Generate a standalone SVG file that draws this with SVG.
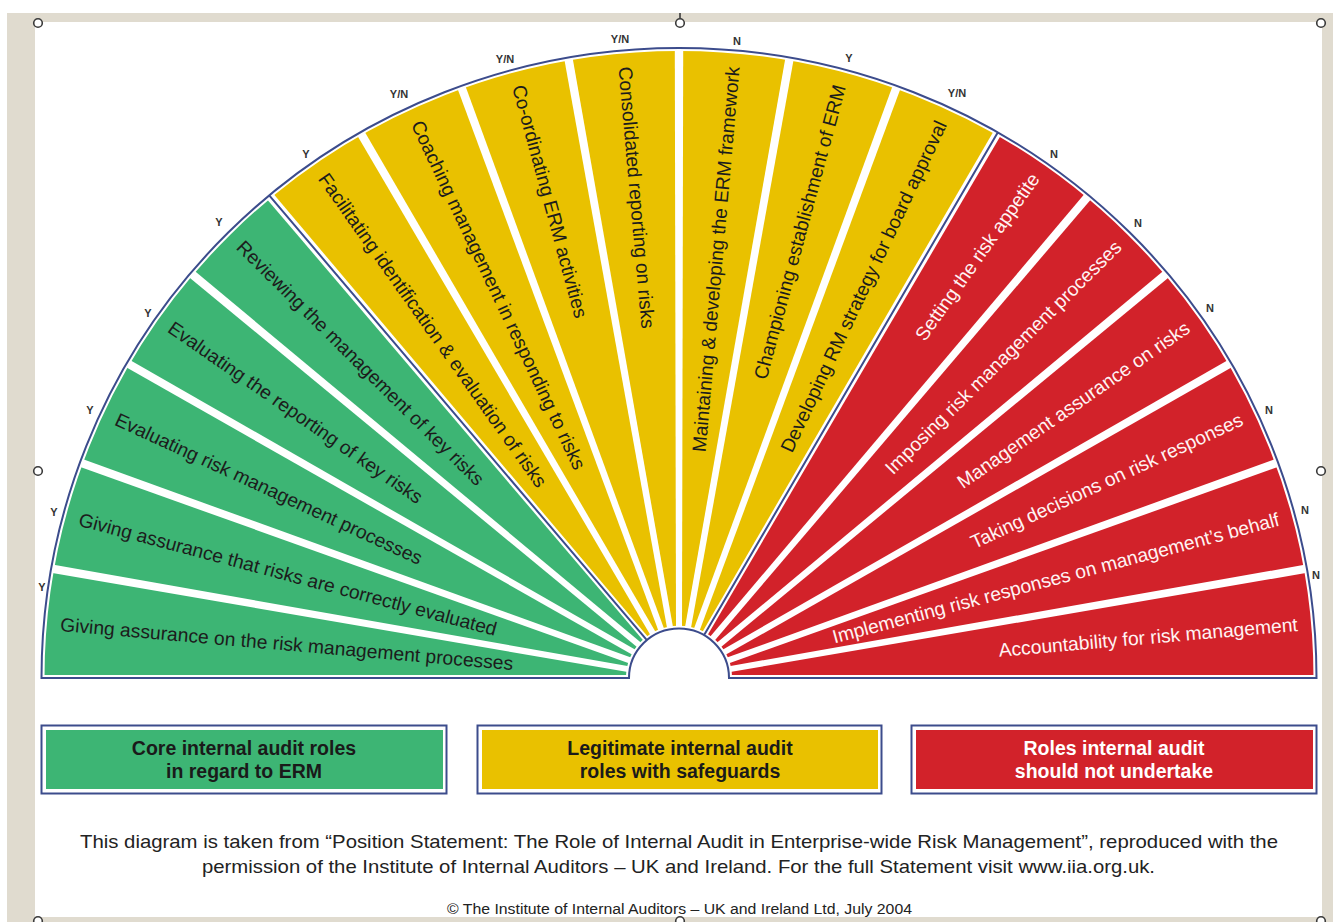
<svg xmlns="http://www.w3.org/2000/svg" xmlns:xlink="http://www.w3.org/1999/xlink" width="1333" height="922" viewBox="0 0 1333 922">
<style>
.g{fill:#3db574}
.y{fill:#e9c100}
.r{fill:#d2222a}
.lbl{font-family:"Liberation Sans",Arial,sans-serif;font-size:19.3px;fill:#1c1c1c}
.lw{fill:#fff3f3}
.yn{font-family:"Liberation Sans",Arial,sans-serif;font-size:11px;font-weight:bold;fill:#333;text-anchor:middle}
.leg{font-family:"Liberation Sans",Arial,sans-serif;font-size:19.5px;font-weight:bold;text-anchor:middle;fill:#1a1a1a}
.cap{font-family:"Liberation Sans",Arial,sans-serif;fill:#222}
.sep{fill:#fff}
.handle{fill:#fff;stroke:#3a3a3a;stroke-width:1.6}
</style>
<defs>
<path id="wedge" d="M50,0 L637.5,0 A637.5,637.5 0 0 0 627.82,-110.70 L49.24,-8.68 A50,50 0 0 1 50,0 Z"/>
<polygon id="sep" points="50,-3 640,-4.2 640,4.2 50,3"/>
</defs>
<rect width="1333" height="922" fill="#fff"/>
<rect x="7" y="13" width="1326" height="909" fill="#e0dbcf"/>
<rect x="35" y="22" width="1287" height="895" fill="#fff"/>

<g id="fan">
<g id="role-01"><use xlink:href="#wedge" class="g" transform="translate(679,678) scale(1,0.9882) rotate(-170)"/><text class="lbl" transform="translate(679,678) scale(1,0.9882) rotate(5)" x="-621" y="6.5">Giving assurance on the risk management processes</text><text class="yn" x="42" y="591">Y</text></g>
<g id="role-02"><use xlink:href="#wedge" class="g" transform="translate(679,678) scale(1,0.9882) rotate(-160)"/><text class="lbl" transform="translate(679,678) scale(1,0.9882) rotate(15)" x="-621" y="6.5">Giving assurance that risks are correctly evaluated</text><text class="yn" x="54" y="516">Y</text></g>
<g id="role-03"><use xlink:href="#wedge" class="g" transform="translate(679,678) scale(1,0.9882) rotate(-150)"/><text class="lbl" transform="translate(679,678) scale(1,0.9882) rotate(25)" x="-621" y="6.5">Evaluating risk management processes</text><text class="yn" x="90" y="414">Y</text></g>
<g id="role-04"><use xlink:href="#wedge" class="g" transform="translate(679,678) scale(1,0.9882) rotate(-140)"/><text class="lbl" transform="translate(679,678) scale(1,0.9882) rotate(35)" x="-621" y="6.5">Evaluating the reporting of key risks</text><text class="yn" x="148" y="317">Y</text></g>
<g id="role-05"><use xlink:href="#wedge" class="g" transform="translate(679,678) scale(1,0.9882) rotate(-130)"/><text class="lbl" transform="translate(679,678) scale(1,0.9882) rotate(45)" x="-621" y="6.5">Reviewing the management of key risks</text><text class="yn" x="219" y="226">Y</text></g>
<g id="role-06"><use xlink:href="#wedge" class="y" transform="translate(679,678) scale(1,0.9882) rotate(-120)"/><text class="lbl" transform="translate(679,678) scale(1,0.9882) rotate(55)" x="-621" y="6.5">Facilitating identification &amp; evaluation of risks</text><text class="yn" x="306" y="158">Y</text></g>
<g id="role-07"><use xlink:href="#wedge" class="y" transform="translate(679,678) scale(1,0.9882) rotate(-110)"/><text class="lbl" transform="translate(679,678) scale(1,0.9882) rotate(65)" x="-621" y="6.5">Coaching management in responding to risks</text><text class="yn" x="399" y="98">Y/N</text></g>
<g id="role-08"><use xlink:href="#wedge" class="y" transform="translate(679,678) scale(1,0.9882) rotate(-100)"/><text class="lbl" transform="translate(679,678) scale(1,0.9882) rotate(75)" x="-621" y="6.5">Co-ordinating ERM activities</text><text class="yn" x="505" y="63">Y/N</text></g>
<g id="role-09"><use xlink:href="#wedge" class="y" transform="translate(679,678) scale(1,0.9882) rotate(-90)"/><text class="lbl" transform="translate(679,678) scale(1,0.9882) rotate(85)" x="-621" y="6.5">Consolidated reporting on risks</text><text class="yn" x="620" y="43">Y/N</text></g>
<g id="role-10"><use xlink:href="#wedge" class="y" transform="translate(679,678) scale(1,0.9882) rotate(-80)"/><text class="lbl" transform="translate(679,678) scale(1,0.9882) rotate(-85)" x="621" y="6.5" text-anchor="end">Maintaining &amp; developing the ERM framework</text><text class="yn" x="737" y="45">N</text></g>
<g id="role-11"><use xlink:href="#wedge" class="y" transform="translate(679,678) scale(1,0.9882) rotate(-70)"/><text class="lbl" transform="translate(679,678) scale(1,0.9882) rotate(-75)" x="621" y="6.5" text-anchor="end">Championing establishment of ERM</text><text class="yn" x="849" y="62">Y</text></g>
<g id="role-12"><use xlink:href="#wedge" class="y" transform="translate(679,678) scale(1,0.9882) rotate(-60)"/><text class="lbl" transform="translate(679,678) scale(1,0.9882) rotate(-65)" x="621" y="6.5" text-anchor="end">Developing RM strategy for board approval</text><text class="yn" x="957" y="97">Y/N</text></g>
<g id="role-13"><use xlink:href="#wedge" class="r" transform="translate(679,678) scale(1,0.9882) rotate(-50)"/><text class="lbl lw" transform="translate(679,678) scale(1,0.9882) rotate(-55)" x="621" y="6.5" text-anchor="end">Setting the risk appetite</text><text class="yn" x="1054" y="158">N</text></g>
<g id="role-14"><use xlink:href="#wedge" class="r" transform="translate(679,678) scale(1,0.9882) rotate(-40)"/><text class="lbl lw" transform="translate(679,678) scale(1,0.9882) rotate(-45)" x="621" y="6.5" text-anchor="end">Imposing risk management processes</text><text class="yn" x="1138" y="227">N</text></g>
<g id="role-15"><use xlink:href="#wedge" class="r" transform="translate(679,678) scale(1,0.9882) rotate(-30)"/><text class="lbl lw" transform="translate(679,678) scale(1,0.9882) rotate(-35)" x="621" y="6.5" text-anchor="end">Management assurance on risks</text><text class="yn" x="1210" y="312">N</text></g>
<g id="role-16"><use xlink:href="#wedge" class="r" transform="translate(679,678) scale(1,0.9882) rotate(-20)"/><text class="lbl lw" transform="translate(679,678) scale(1,0.9882) rotate(-25)" x="621" y="6.5" text-anchor="end">Taking decisions on risk responses</text><text class="yn" x="1269" y="414">N</text></g>
<g id="role-17"><use xlink:href="#wedge" class="r" transform="translate(679,678) scale(1,0.9882) rotate(-10)"/><text class="lbl lw" transform="translate(679,678) scale(1,0.9882) rotate(-15)" x="621" y="6.5" text-anchor="end">Implementing risk responses on management’s behalf</text><text class="yn" x="1305" y="514">N</text></g>
<g id="role-18"><use xlink:href="#wedge" class="r" transform="translate(679,678) scale(1,0.9882) rotate(0)"/><text class="lbl lw" transform="translate(679,678) scale(1,0.9882) rotate(-5)" x="621" y="6.5" text-anchor="end">Accountability for risk management</text><text class="yn" x="1316" y="579">N</text></g>
</g>

<g id="separators" transform="translate(679,678) scale(1,0.9882)">
<use xlink:href="#sep" class="sep" transform="rotate(-170)"/>
<use xlink:href="#sep" class="sep" transform="rotate(-160)"/>
<use xlink:href="#sep" class="sep" transform="rotate(-150)"/>
<use xlink:href="#sep" class="sep" transform="rotate(-140)"/>
<use xlink:href="#sep" class="sep" transform="rotate(-130)"/>
<use xlink:href="#sep" class="sep" transform="rotate(-120)"/>
<use xlink:href="#sep" class="sep" transform="rotate(-110)"/>
<use xlink:href="#sep" class="sep" transform="rotate(-100)"/>
<use xlink:href="#sep" class="sep" transform="rotate(-90)"/>
<use xlink:href="#sep" class="sep" transform="rotate(-80)"/>
<use xlink:href="#sep" class="sep" transform="rotate(-70)"/>
<use xlink:href="#sep" class="sep" transform="rotate(-60)"/>
<use xlink:href="#sep" class="sep" transform="rotate(-50)"/>
<use xlink:href="#sep" class="sep" transform="rotate(-40)"/>
<use xlink:href="#sep" class="sep" transform="rotate(-30)"/>
<use xlink:href="#sep" class="sep" transform="rotate(-20)"/>
<use xlink:href="#sep" class="sep" transform="rotate(-10)"/>
</g>

<g id="outline" fill="none" transform="translate(679,678) scale(1,0.9882)">
<path d="M-637.5,0 A637.5,637.5 0 0 1 637.5,0 L50,0 A50,50 0 0 0 -50,0 Z" stroke="#fff" stroke-width="6"/>
<path d="M-637.5,0 A637.5,637.5 0 0 1 637.5,0 L50,0 A50,50 0 0 0 -50,0 Z M-32.14,-38.30 L-409.78,-488.35 M25,-43.30 L318.75,-552.09" stroke="#3c4c8c" stroke-width="2"/>
</g>

<g id="legend-core">
<rect x="41.5" y="725.5" width="405" height="68" fill="#fff" stroke="#3c4c8c" stroke-width="2"/>
<rect x="46" y="730" width="397" height="59" class="g"/>
<text class="leg" x="244" y="755">Core internal audit roles</text>
<text class="leg" x="244" y="778">in regard to ERM</text>
</g>
<g id="legend-legitimate">
<rect x="477.5" y="725.5" width="404" height="68" fill="#fff" stroke="#3c4c8c" stroke-width="2"/>
<rect x="482" y="730" width="396" height="59" class="y"/>
<text class="leg" x="680" y="755">Legitimate internal audit</text>
<text class="leg" x="680" y="778">roles with safeguards</text>
</g>
<g id="legend-not">
<rect x="911.5" y="725.5" width="405" height="68" fill="#fff" stroke="#3c4c8c" stroke-width="2"/>
<rect x="916" y="730" width="397" height="59" class="r"/>
<text class="leg" x="1114" y="755" style="fill:#fff">Roles internal audit</text>
<text class="leg" x="1114" y="778" style="fill:#fff">should not undertake</text>
</g>

<g id="caption">
<text class="cap" x="80" y="848" font-size="18.5" textLength="1198" lengthAdjust="spacingAndGlyphs">This diagram is taken from “Position Statement: The Role of Internal Audit in Enterprise-wide Risk Management”, reproduced with the</text>
<text class="cap" x="202" y="873" font-size="18.5" textLength="953" lengthAdjust="spacingAndGlyphs">permission of the Institute of Internal Auditors – UK and Ireland. For the full Statement visit www.iia.org.uk.</text>
<text class="cap" x="447" y="914" font-size="14" textLength="465" lengthAdjust="spacingAndGlyphs">© The Institute of Internal Auditors – UK and Ireland Ltd, July 2004</text>
</g>

<g id="handles">
<line x1="680" y1="13" x2="680" y2="18.5" stroke="#3a3a3a" stroke-width="1.6"/>
<circle class="handle" cx="38" cy="23" r="4.3"/>
<circle class="handle" cx="680" cy="23" r="4.3"/>
<circle class="handle" cx="1321" cy="23" r="4.3"/>
<circle class="handle" cx="38" cy="471" r="4.3"/>
<circle class="handle" cx="1321" cy="471" r="4.3"/>
<circle class="handle" cx="38" cy="921" r="4.3"/>
<circle class="handle" cx="680" cy="921" r="4.3"/>
<circle class="handle" cx="1321" cy="921" r="4.3"/>
</g>
</svg>
